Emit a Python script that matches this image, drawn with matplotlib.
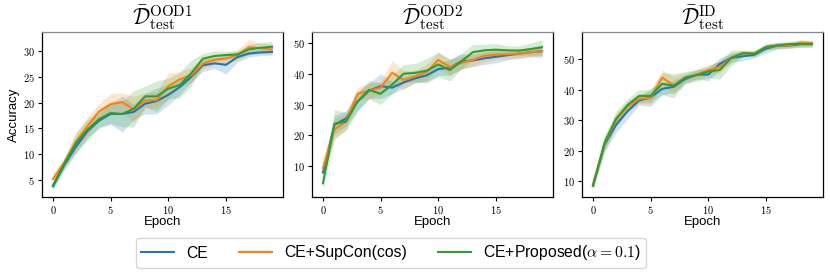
import matplotlib
matplotlib.use("Agg")
import matplotlib.pyplot as plt
import numpy as np

plt.rcParams['mathtext.fontset'] = 'cm'
plt.rcParams['font.family'] = ['Liberation Sans', 'DejaVu Sans']

epochs = list(range(20))

# OOD1
ood1_ce = [3.8, 8.0, 11.5, 14.5, 16.5, 17.8, 17.8, 18.2, 19.8, 20.3, 21.5, 23.0, 25.0, 27.2, 27.6, 27.3, 28.8, 29.5, 29.7, 29.8]
ood1_sup = [5.2, 8.5, 12.5, 15.5, 18.3, 19.7, 20.1, 18.7, 20.4, 20.5, 23.2, 24.5, 25.3, 27.5, 28.3, 28.5, 29.2, 30.7, 30.5, 30.3]
ood1_prop = [4.0, 8.3, 12.2, 14.8, 16.8, 18.0, 17.8, 18.8, 21.2, 21.2, 22.7, 23.4, 25.7, 28.5, 29.0, 29.2, 29.3, 30.3, 30.6, 30.8]
ood1_ce_sd = [0.6, 1.0, 1.2, 1.3, 1.5, 2.0, 3.5, 1.5, 2.0, 2.5, 2.0, 1.5, 1.0, 1.2, 1.0, 1.8, 1.0, 0.7, 0.6, 0.6]
ood1_sup_sd = [1.2, 1.0, 1.5, 1.8, 1.5, 2.0, 1.8, 2.5, 1.5, 1.5, 2.5, 1.5, 1.5, 1.0, 1.0, 1.0, 1.0, 1.5, 1.0, 1.0]
ood1_prop_sd = [0.6, 1.0, 2.0, 2.0, 1.5, 2.0, 2.5, 3.5, 2.0, 3.0, 2.0, 2.5, 2.5, 1.0, 1.0, 0.7, 0.7, 1.0, 1.0, 1.0]

# OOD2
ood2_ce = [8.0, 23.5, 25.5, 31.0, 34.5, 36.0, 35.5, 37.2, 38.5, 39.5, 41.5, 42.0, 44.0, 44.3, 45.0, 45.5, 46.0, 46.5, 47.0, 47.3]
ood2_sup = [9.5, 22.0, 24.5, 33.5, 34.5, 35.5, 40.3, 38.0, 39.2, 40.5, 44.5, 42.2, 43.5, 44.5, 45.8, 46.2, 46.3, 46.5, 47.0, 47.3]
ood2_prop = [4.5, 23.8, 24.5, 31.0, 34.8, 33.5, 36.5, 40.0, 40.3, 41.0, 43.0, 41.2, 44.0, 47.0, 47.6, 47.8, 47.6, 47.5, 48.0, 48.6]
ood2_ce_sd = [1.5, 3.0, 2.5, 3.0, 2.5, 4.0, 2.0, 2.0, 1.5, 2.0, 2.0, 2.5, 2.5, 2.0, 2.0, 2.0, 1.5, 1.5, 1.5, 2.0]
ood2_sup_sd = [3.0, 3.5, 2.5, 2.0, 2.5, 2.0, 4.0, 3.0, 2.0, 2.5, 2.5, 2.5, 2.0, 2.0, 2.0, 1.5, 1.5, 1.5, 1.5, 1.5]
ood2_prop_sd = [2.0, 4.5, 3.0, 3.0, 3.0, 3.5, 3.0, 3.0, 3.0, 4.0, 4.0, 3.5, 2.5, 2.5, 2.0, 2.0, 1.5, 1.5, 2.0, 2.5]

# ID
id_ce = [8.5, 22.0, 28.5, 33.0, 36.5, 37.5, 40.3, 41.0, 43.5, 45.0, 45.0, 48.5, 50.5, 51.0, 51.5, 53.5, 54.5, 54.5, 55.0, 55.0]
id_sup = [9.0, 22.3, 30.0, 34.5, 37.0, 37.3, 44.0, 41.5, 44.0, 45.0, 46.5, 47.5, 50.5, 52.0, 52.0, 54.0, 54.5, 54.5, 55.5, 55.3]
id_prop = [8.5, 22.5, 30.5, 35.0, 38.0, 38.0, 42.0, 41.3, 44.0, 44.8, 46.0, 46.5, 50.5, 52.0, 51.8, 54.0, 54.5, 55.0, 55.0, 55.0]
id_ce_sd = [1.2, 2.5, 2.5, 2.5, 1.5, 3.0, 2.0, 2.0, 1.5, 1.5, 2.0, 2.0, 1.5, 1.5, 1.0, 1.5, 1.0, 1.0, 1.0, 1.0]
id_sup_sd = [1.0, 2.0, 2.0, 2.0, 1.5, 2.0, 2.5, 3.0, 1.5, 1.5, 1.5, 2.0, 1.5, 1.0, 1.0, 1.0, 1.0, 1.0, 1.0, 1.0]
id_prop_sd = [1.0, 2.5, 2.5, 2.0, 2.0, 2.0, 3.5, 4.0, 2.0, 2.0, 2.0, 3.0, 2.5, 1.0, 1.0, 1.0, 1.0, 1.0, 1.0, 1.0]

xticks = [0, 5, 10, 15]
yticks_list = [[5, 10, 15, 20, 25, 30], [10, 20, 30, 40, 50], [10, 20, 30, 40, 50]]

titles = [r'$\bar{\mathcal{D}}^{\mathrm{OOD1}}_{\mathrm{test}}$',
          r'$\bar{\mathcal{D}}^{\mathrm{OOD2}}_{\mathrm{test}}$',
          r'$\bar{\mathcal{D}}^{\mathrm{ID}}_{\mathrm{test}}$']
labels = ['CE', 'CE+SupCon(cos)', r'CE+Proposed($\alpha=0.1$)']
colors = ['#1f77b4', '#ff7f0e', '#2ca02c']

panels = [
    ([ood1_ce, ood1_sup, ood1_prop], [ood1_ce_sd, ood1_sup_sd, ood1_prop_sd]),
    ([ood2_ce, ood2_sup, ood2_prop], [ood2_ce_sd, ood2_sup_sd, ood2_prop_sd]),
    ([id_ce, id_sup, id_prop], [id_ce_sd, id_sup_sd, id_prop_sd]),
]

fig = plt.figure(figsize=(8.3, 2.77), dpi=100)
W, H = 830, 277
lefts = [42, 312, 582]
aw = 241
top, bottom = 32, 197
axes = []
handles = []
for k, (left, (means, sds)) in enumerate(zip(lefts, panels)):
    ax = fig.add_axes([left / W, 1 - bottom / H, aw / W, (bottom - top) / H])
    axes.append(ax)
    x = np.array(epochs)
    for m, s, c, lab in zip(means, sds, colors, labels):
        m = np.array(m); s = np.array(s)
        ax.fill_between(x, m - s, m + s, color=c, alpha=0.2, linewidth=0)
        h, = ax.plot(x, m, color=c, lw=1.5, label=lab)
        if k == 0:
            handles.append(h)
    ylim = ax.get_ylim()
    ax.set_xticks(xticks)
    ax.set_xticklabels([f'${v}$' for v in xticks], fontsize=7.5)
    yt = yticks_list[k]
    ax.set_yticks(yt)
    ax.set_yticklabels([f'${t}$' for t in yt], fontsize=7.5)
    ax.set_ylim(ylim)
    ax.tick_params(length=3, width=0.8, pad=2)
    ax.set_xlabel('Epoch', fontsize=9.5, labelpad=0)
    ax.set_title(titles[k], fontsize=15.5, pad=2)
    for sp in ax.spines.values():
        sp.set_linewidth(0.9)
    ax.spines['top'].set_color('#888888')
axes[0].set_ylabel('Accuracy', fontsize=9.5, labelpad=2)

fig.legend(handles=handles, loc='center', ncol=3, fontsize=11.3,
           bbox_to_anchor=(391 / W, 1 - 253 / H), frameon=True,
           handlelength=2.1, handletextpad=0.76, columnspacing=2.0,
           borderpad=0.35, fancybox=True, edgecolor='#cccccc')

fig.savefig('out.png', dpi=100)
